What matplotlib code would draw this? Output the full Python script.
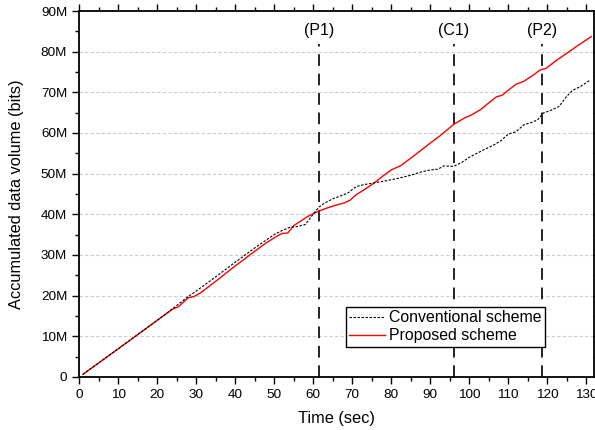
import numpy as np
import matplotlib
matplotlib.use('Agg')
import matplotlib.pyplot as plt
from matplotlib.ticker import MultipleLocator, FuncFormatter

plt.rcParams['font.family'] = ['Liberation Sans', 'DejaVu Sans']

# accumulated volume in Mbit vs. time (s)
conv_t = [1, 10, 20, 24, 26, 28, 30, 35, 40, 45, 50, 52, 54, 56, 58, 60,
          61.5, 63, 65, 67, 69, 71, 73, 76, 79, 82, 85, 88, 90, 92, 93.5,
          96, 98, 100, 102, 104, 106, 108, 110, 112, 114, 116, 117.5, 119,
          121, 123, 125, 126.5, 128.5, 131]
conv_v = [0.65, 6.9, 13.9, 16.8, 18.3, 19.8, 21.1, 24.6, 28.2, 31.7, 35.0,
          36.0, 36.8, 37.0, 37.5, 40.0, 41.8, 42.8, 43.8, 44.5, 45.3, 46.8,
          47.3, 47.8, 48.3, 48.9, 49.6, 50.5, 50.9, 51.1, 51.9, 51.8, 52.7,
          54.0, 55.0, 56.0, 56.9, 58.0, 59.7, 60.3, 62.0, 62.6, 63.2, 64.9,
          65.6, 66.5, 69.0, 70.5, 71.4, 73.0]

prop_t = [1, 10, 20, 24, 25.5, 28, 29.5, 31, 35, 40, 42, 45, 48, 50.5, 52,
          53.5, 55, 58.5, 60.5, 62, 64, 66, 68, 69.5, 71, 73, 75.5, 78, 80,
          82.5, 85, 88, 90, 92.5, 96, 99, 100.5, 103, 105, 107, 108.5, 110,
          112, 114, 116.5, 118.2, 119.7, 122, 125, 128, 131.3]
prop_v = [0.65, 6.9, 13.9, 16.7, 17.3, 19.5, 19.8, 20.6, 23.5, 27.3, 28.7,
          30.9, 33.0, 34.5, 35.3, 35.4, 37.2, 39.4, 40.4, 41.0, 41.7, 42.3,
          42.8, 43.5, 44.8, 46.0, 47.6, 49.5, 50.9, 52.0, 53.8, 56.0, 57.5,
          59.3, 62.1, 63.8, 64.4, 65.8, 67.4, 68.9, 69.3, 70.5, 72.0, 72.7,
          74.3, 75.5, 75.9, 77.6, 79.6, 81.6, 83.7]

event_t = [61.6, 96.1, 118.8]
event_labels = ['(P1)', '(C1)', '(P2)']

fig = plt.figure(figsize=(5.95, 4.30), dpi=100)
ax = fig.add_axes([0.1328, 0.1233, 0.8655, 0.8511])

ax.set_xlim(0, 132)
ax.set_ylim(0, 90)

for y in range(10, 90, 10):
    ax.axhline(y, color='#cccccc', lw=0.8, ls=(0, (3, 2)), zorder=0)

for t, lab in zip(event_t, event_labels):
    ax.plot([t, t], [0, 82], color='#222222', lw=1.4, ls=(0, (6, 4)), zorder=1)
    ax.text(t, 85.3, lab, ha='center', va='center', fontsize=11.5)

ax.plot(conv_t, conv_v, color='black', lw=0.8, ls=(0, (2.2, 1.4)),
        label='Conventional scheme', zorder=3)
ax.plot(prop_t, prop_v, color='red', lw=1.0, label='Proposed scheme', zorder=2)

ax.xaxis.set_major_locator(MultipleLocator(10))
ax.xaxis.set_minor_locator(MultipleLocator(5))
ax.yaxis.set_major_locator(MultipleLocator(10))
ax.yaxis.set_minor_locator(MultipleLocator(5))
ax.yaxis.set_major_formatter(FuncFormatter(lambda v, p: '0' if v == 0 else f'{v:.0f}M'))

ax.tick_params(which='both', direction='out', top=True, right=True,
               labeltop=False, labelright=False, width=1.0)
ax.tick_params(which='major', length=5, labelsize=9.7)
ax.tick_params(which='minor', length=3)
for s in ax.spines.values():
    s.set_linewidth(1.3)

ax.set_xlabel('Time (sec)', fontsize=11.8, labelpad=7)
ax.set_ylabel('Accumulated data volume (bits)', fontsize=11.8, labelpad=12)

leg = ax.legend(loc='lower left', bbox_to_anchor=(0.518, 0.083), fontsize=11.4,
                frameon=True, fancybox=False, framealpha=1, edgecolor='black',
                borderpad=0.2, labelspacing=0.2, handlelength=2.3,
                handletextpad=0.25, borderaxespad=0)
leg._legend_box.sep = 2
leg.get_frame().set_linewidth(1.0)

fig.savefig('out.png', dpi=100)
